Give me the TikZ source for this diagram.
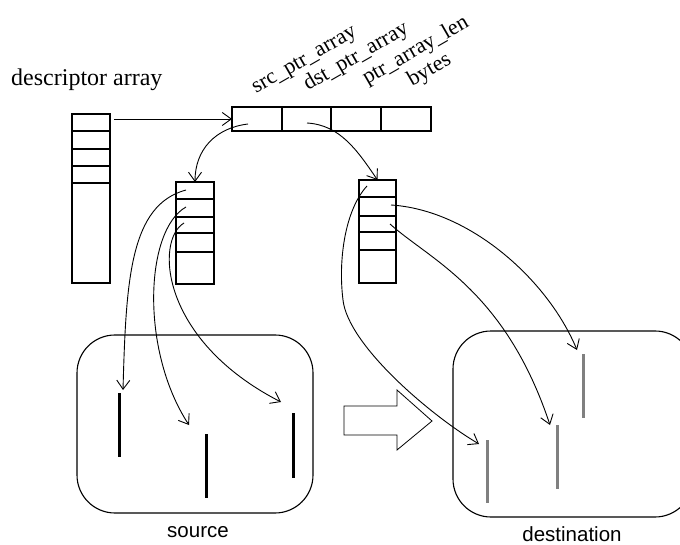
\documentclass[tikz,border=0pt]{standalone}
\usepackage{fontspec}
\setmainfont{Liberation Serif}
\newfontfamily\labelsans{Liberation Sans}
\usetikzlibrary{arrows.meta}

\tikzset{
  cellbox/.style={draw, line width=2.5pt, inner sep=0pt, outer sep=0pt},
  sepline/.style={line width=2.5pt},
  link/.style={line width=0.9pt, -{Straight Barb[length=9pt,width=13pt,line width=0.9pt]}},
  region/.style={draw, line width=1.1pt, rounded corners=38pt, inner sep=0pt},
  srcbar/.style={line width=3pt, black},
  dstbar/.style={line width=3pt, gray},
  field/.style={anchor=base west, rotate=30, font=\fontsize{22}{22}\selectfont, inner sep=0pt},
  caption/.style={font=\labelsans\fontsize{20.5}{20.5}\selectfont, inner sep=0pt}
}

\begin{document}
\begin{tikzpicture}[x=1pt,y=-1pt]
\useasboundingbox (0,0) rectangle (680,545);
\clip (0,0) rectangle (680,545);

% descriptor array column
\node[anchor=base west, inner sep=0pt, font=\fontsize{24}{24}\selectfont] (dtitle) at (11,86) {descriptor array};
\node[cellbox, minimum width=38pt, minimum height=169pt] (desc) at (91,198.5) {};
\foreach \y in {131,149,166,183}
  \draw[sepline] (desc.west |- 0,\y) -- (desc.east |- 0,\y);

% descriptor fields
\node[cellbox, minimum width=50pt, minimum height=24pt] (c1) at (257,119) {};
\node[cellbox, minimum width=49pt, minimum height=24pt] (c2) at (306.5,119) {};
\node[cellbox, minimum width=50pt, minimum height=24pt] (c3) at (356,119) {};
\node[cellbox, minimum width=50pt, minimum height=24pt] (c4) at (406,119) {};

\node[field] (f1) at (256,94) {src\_ptr\_array};
\node[field] (f2) at (308,91) {dst\_ptr\_array};
\node[field] (f3) at (367,85) {ptr\_array\_len};
\node[field] (f4) at (412,87) {bytes};

% pointer arrays
\node[cellbox, minimum width=38pt, minimum height=102pt] (L) at (195,233) {};
\foreach \y in {199,217,233,252}
  \draw[sepline] (L.west |- 0,\y) -- (L.east |- 0,\y);
\node[cellbox, minimum width=37pt, minimum height=103pt] (R) at (377.5,231.5) {};
\foreach \y in {197,216,232,250}
  \draw[sepline] (R.west |- 0,\y) -- (R.east |- 0,\y);

% source and destination regions
\node[region, minimum width=236pt, minimum height=178pt] (src) at (195,424) {};
\node[region, minimum width=240pt, minimum height=186pt] (dst) at (573,424) {};
\node[caption, anchor=base] (srclabel) at (198,537) {source};
\node[caption, anchor=base] (dstlabel) at (572,541) {destination};

% data blocks
\draw[srcbar] (119,393) -- (119,457);
\draw[srcbar] (206,434) -- (206,498);
\draw[srcbar] (293,413) -- (293,478);
\draw[dstbar] (487,440) -- (487,503);
\draw[dstbar] (557,425) -- (557,489);
\draw[dstbar] (583,354) -- (583,418);

% copy direction
\draw[line width=0.8pt] (344,406) -- (397,406) -- (397,390) -- (432,421) -- (397,450) -- (397,435) -- (344,435) -- cycle;

% connector end points
\coordinate (dout) at (114,119);
\coordinate (p1) at (248,124);
\coordinate (p2) at (307,123);
\coordinate (l1) at (186,190);
\coordinate (l2) at (186,207);
\coordinate (l3) at (184,223);
\coordinate (r1) at (367,186);
\coordinate (r2) at (391,205);
\coordinate (r3) at (390,224);
\coordinate (s1) at (123,390);
\coordinate (s2) at (189,425);
\coordinate (s3) at (281,402);
\coordinate (d1) at (479,444);
\coordinate (d2) at (550,425);
\coordinate (d3) at (577,350);

% connectors
\draw[link] (dout) -- (c1.west);
\draw[link] (p1) .. controls (215,128) and (195,150) .. (L.north);
\draw[link] (p2) .. controls (340,125) and (357,150) .. (R.north);
\draw[link] (l1) .. controls (130,205) and (126,280) .. (s1);
\draw[link] (l2) .. controls (145,230) and (140,350) .. (s2);
\draw[link] (l3) .. controls (155,240) and (160,340) .. (s3);
\draw[link] (r1) .. controls (345,210) and (338,260) .. (343,300) .. controls (348,345) and (430,415) .. (d1);
\draw[link] (r2) .. controls (470,210) and (548,280) .. (d3);
\draw[link] (r3) .. controls (430,260) and (505,290) .. (d2);
\end{tikzpicture}
\end{document}
